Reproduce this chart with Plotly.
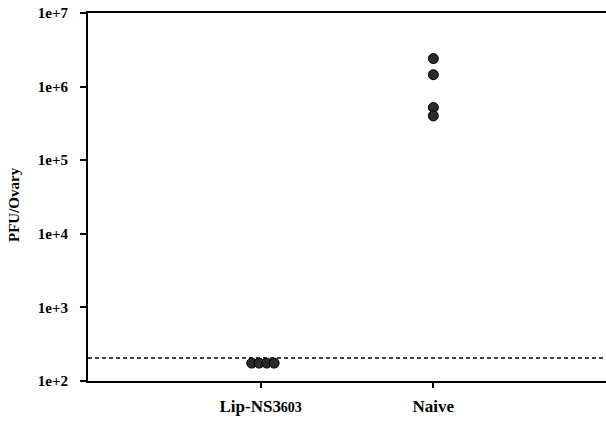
import plotly.graph_objects as go

# Group positions on the x axis and their labels
groups = ["Lip-NS3603", "Naive"]
group_pos = [1, 2]
group_labels = ["Lip-NS3<span style=\"font-size:14px\">603</span>", "Naive"]

# Titers per ovary, one value per animal, with horizontal spread within the group
lip_values = [175, 175, 175, 175]
lip_offsets = [-0.052, -0.009, 0.035, 0.078]
naive_values = [2.4e6, 1.45e6, 5.2e5, 4.0e5]
naive_offsets = [0.0, 0.0, 0.0, 0.0]

# Detection limit
detection_limit = 205

# Y axis ticks
ytick_vals = [1e2, 1e3, 1e4, 1e5, 1e6, 1e7]
ytick_text = ["1e+2", "1e+3", "1e+4", "1e+5", "1e+6", "1e+7"]

font_family = "Liberation Serif, Times New Roman, serif"

fig = go.Figure()

fig.add_trace(go.Scatter(
    x=[0, 3], y=[detection_limit, detection_limit],
    mode="lines",
    line=dict(color="black", width=1.5, dash="4px,3px"),
    hoverinfo="skip", showlegend=False,
))

marker_style = dict(size=10, color="#2b2b2b", line=dict(color="black", width=1))

fig.add_trace(go.Scatter(
    x=[group_pos[0] + o for o in lip_offsets], y=lip_values,
    mode="markers", marker=marker_style, name=groups[0], showlegend=False,
))
fig.add_trace(go.Scatter(
    x=[group_pos[1] + o for o in naive_offsets], y=naive_values,
    mode="markers", marker=marker_style, name=groups[1], showlegend=False,
))

# Rotated y-axis title
fig.add_annotation(
    text="<b>PFU/Ovary</b>", textangle=-90,
    xref="paper", yref="paper", x=0, y=0.5,
    xanchor="center", yanchor="middle", xshift=-74, yshift=-8,
    showarrow=False,
    font=dict(family=font_family, size=15, color="black"),
)

fig.update_layout(
    width=606, height=423,
    margin=dict(l=88, r=0, t=13, b=42),
    paper_bgcolor="white", plot_bgcolor="white",
    font=dict(family=font_family, size=15, color="black"),
    xaxis=dict(
        range=[0, 3],
        tickmode="array", tickvals=group_pos, ticktext=group_labels,
        ticks="outside", ticklen=5, tickwidth=1.5, tickcolor="black",
        ticklabelstandoff=4,
        showline=True, linecolor="black", linewidth=2, mirror=True,
        showgrid=False, zeroline=False,
        tickfont=dict(family=font_family, size=17, color="black", weight="bold"),
    ),
    yaxis=dict(
        type="log", range=[2, 7],
        tickmode="array", tickvals=ytick_vals, ticktext=ytick_text,
        ticks="outside", ticklen=6, tickwidth=1.5, tickcolor="black",
        ticklabelstandoff=9,
        showline=True, linecolor="black", linewidth=2,
        showgrid=False, zeroline=False,
        tickfont=dict(family=font_family, size=15, color="black", weight="bold"),
    ),
)

fig.write_html("out.html")
